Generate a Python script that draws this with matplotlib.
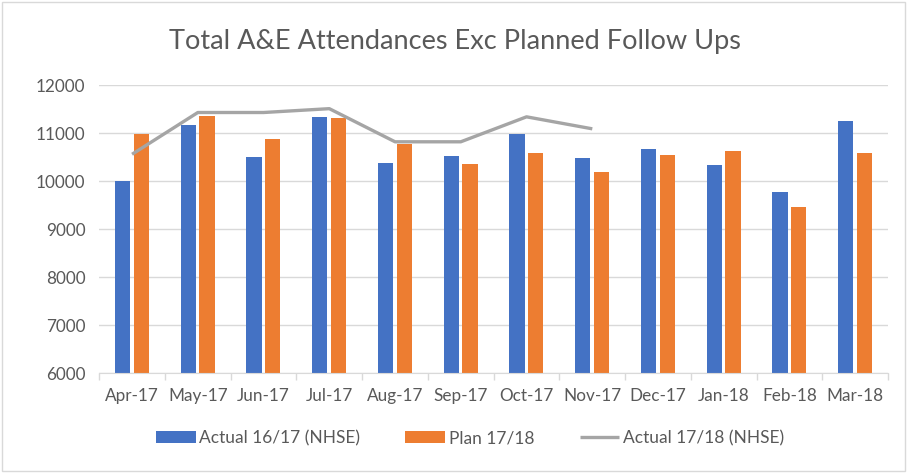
import matplotlib
matplotlib.use("Agg")
import matplotlib.pyplot as plt
import numpy as np
from matplotlib.patches import Rectangle

months = ['Apr-17', 'May-17', 'Jun-17', 'Jul-17', 'Aug-17', 'Sep-17',
          'Oct-17', 'Nov-17', 'Dec-17', 'Jan-18', 'Feb-18', 'Mar-18']
actual_1617 = [10000, 11160, 10510, 11330, 10370, 10520,
               10990, 10480, 10680, 10330, 9770, 11245]
plan_1718 = [10990, 11355, 10880, 11310, 10780, 10350,
             10590, 10200, 10545, 10620, 9460, 10590]
actual_1718 = [10560, 11430, 11430, 11510, 10820, 10820, 11340, 11090]

plt.rcParams['font.family'] = ['Lato', 'DejaVu Sans']
txt = '#595959'

fig = plt.figure(figsize=(9.10, 4.73), dpi=100)
ax = fig.add_axes([0.109, 0.211, 0.867, 0.609])

x = np.arange(len(months))
w = 0.23
b1 = ax.bar(x - 0.145, actual_1617, w, color='#4472c4', label='Actual 16/17 (NHSE)', zorder=2)
b2 = ax.bar(x + 0.14, plan_1718, w, color='#ed7d31', label='Plan 17/18', zorder=2)
l1, = ax.plot(x[:len(actual_1718)], actual_1718, color='#a5a5a5', lw=2.4,
              label='Actual 17/18 (NHSE)', zorder=3, solid_capstyle='butt')

ax.set_ylim(6000, 12000)
ax.set_yticks(range(6000, 12001, 1000))
ax.set_xlim(-0.5, len(months) - 0.5)
ax.set_xticks(x)
ax.set_xticklabels(months)
ax.set_xticks(np.arange(-0.5, len(months)), minor=True)
ax.tick_params(axis='x', which='major', length=0, pad=11, labelsize=12.3, labelcolor=txt)
ax.tick_params(axis='x', which='minor', length=5, color='#d9d9d9', width=1)
ax.tick_params(axis='y', length=0, pad=10, labelsize=12.3, labelcolor=txt)
ax.grid(axis='y', color='#d9d9d9', lw=1, zorder=0)
for s in ['top', 'right', 'left']:
    ax.spines[s].set_visible(False)
ax.spines['bottom'].set_color('#d9d9d9')

fig.text(0.5, 0.912, 'Total A&E Attendances Exc Planned Follow Ups',
         ha='center', va='center', fontsize=19.5, color=txt)

ax.legend(handles=[b1, b2, l1], loc='center', bbox_to_anchor=(0.47, -0.225), ncol=3,
          frameon=False, fontsize=12.5, labelcolor=txt, handlelength=2.3,
          handleheight=0.7, columnspacing=2.6, handletextpad=0.2)

fig.patches.append(Rectangle((0.002, 0.004), 0.993, 0.992, transform=fig.transFigure,
                             fill=False, edgecolor='#d9d9d9', lw=1))

fig.savefig('out.png', dpi=100)
